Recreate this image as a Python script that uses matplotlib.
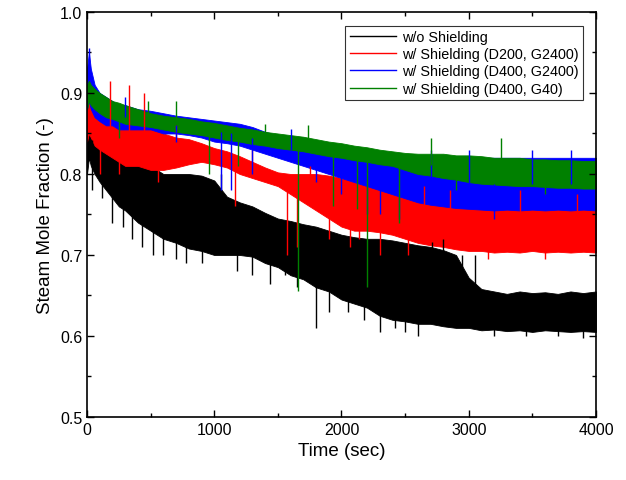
import numpy as np
import matplotlib
matplotlib.use("Agg")
import matplotlib.pyplot as plt
from matplotlib.ticker import MultipleLocator

plt.rcParams["font.family"] = ["Liberation Sans", "DejaVu Sans"]

# Shared time grid (sec) at which the noise band of every trace was read
time_s = [0, 15, 30, 60, 100, 150, 200, 250, 300, 400, 500, 600, 700, 800,
          900, 1000, 1100, 1200, 1300, 1400, 1500, 1600, 1700, 1800, 1900,
          2000, 2100, 2200, 2300, 2400, 2500, 2600, 2700, 2800, 2900, 3000,
          3100, 3200, 3300, 3400, 3500, 3600, 3700, 3800, 3900, 4000]

# w/o Shielding (lower / upper edge of the noisy band)
noshield_lo = [0.80, 0.82, 0.81, 0.80, 0.79, 0.78, 0.77, 0.76, 0.755, 0.74,
               0.73, 0.72, 0.715, 0.708, 0.705, 0.70, 0.70, 0.70, 0.698, 0.69,
               0.685, 0.675, 0.67, 0.66, 0.655, 0.645, 0.64, 0.635, 0.625,
               0.62, 0.618, 0.615, 0.615, 0.612, 0.61, 0.61, 0.607, 0.608,
               0.606, 0.607, 0.605, 0.607, 0.606, 0.605, 0.606, 0.605]
noshield_hi = [0.88, 0.89, 0.88, 0.87, 0.86, 0.85, 0.85, 0.84, 0.83, 0.82,
               0.81, 0.80, 0.80, 0.80, 0.798, 0.792, 0.772, 0.765, 0.76, 0.752,
               0.745, 0.742, 0.738, 0.735, 0.73, 0.725, 0.722, 0.72, 0.72,
               0.718, 0.715, 0.712, 0.71, 0.706, 0.70, 0.672, 0.658, 0.655,
               0.652, 0.655, 0.653, 0.654, 0.652, 0.655, 0.653, 0.655]

# w/ Shielding (D200, G2400)
d200_lo = [0.84, 0.85, 0.845, 0.835, 0.83, 0.825, 0.82, 0.815, 0.81, 0.81,
           0.805, 0.805, 0.808, 0.812, 0.815, 0.812, 0.808, 0.80, 0.795,
           0.79, 0.785, 0.775, 0.765, 0.755, 0.745, 0.735, 0.73, 0.73, 0.728,
           0.725, 0.72, 0.715, 0.712, 0.71, 0.707, 0.705, 0.705, 0.703,
           0.704, 0.703, 0.705, 0.703, 0.704, 0.703, 0.704, 0.703]
d200_hi = [0.89, 0.91, 0.90, 0.895, 0.89, 0.89, 0.885, 0.88, 0.875, 0.865,
           0.86, 0.85, 0.845, 0.843, 0.838, 0.832, 0.828, 0.822, 0.815,
           0.808, 0.802, 0.80, 0.80, 0.80, 0.798, 0.795, 0.79, 0.787, 0.785,
           0.782, 0.78, 0.777, 0.775, 0.772, 0.77, 0.768, 0.767, 0.766,
           0.766, 0.765, 0.766, 0.765, 0.766, 0.765, 0.766, 0.765]

# w/ Shielding (D400, G2400)
d400_lo = [0.88, 0.89, 0.88, 0.87, 0.865, 0.86, 0.86, 0.855, 0.855, 0.855,
           0.855, 0.85, 0.85, 0.848, 0.845, 0.84, 0.838, 0.835, 0.83, 0.825,
           0.82, 0.815, 0.81, 0.805, 0.80, 0.795, 0.79, 0.785, 0.78, 0.775,
           0.77, 0.765, 0.762, 0.76, 0.758, 0.757, 0.756, 0.755, 0.756,
           0.755, 0.756, 0.755, 0.756, 0.755, 0.756, 0.755]
d400_hi = [0.93, 0.95, 0.93, 0.91, 0.90, 0.895, 0.89, 0.885, 0.885, 0.88,
           0.878, 0.875, 0.872, 0.87, 0.868, 0.866, 0.864, 0.862, 0.858,
           0.852, 0.848, 0.845, 0.845, 0.84, 0.835, 0.835, 0.83, 0.83, 0.825,
           0.822, 0.82, 0.82, 0.82, 0.82, 0.82, 0.82, 0.82, 0.82, 0.82, 0.82,
           0.82, 0.82, 0.82, 0.82, 0.82, 0.82]

# w/ Shielding (D400, G40)
g40_lo = [0.88, 0.89, 0.885, 0.88, 0.875, 0.87, 0.868, 0.865, 0.862, 0.86,
          0.858, 0.855, 0.852, 0.85, 0.848, 0.845, 0.842, 0.84, 0.837, 0.835,
          0.832, 0.83, 0.828, 0.825, 0.822, 0.82, 0.817, 0.815, 0.812, 0.81,
          0.805, 0.80, 0.798, 0.795, 0.793, 0.79, 0.788, 0.787, 0.786,
          0.785, 0.785, 0.784, 0.783, 0.783, 0.782, 0.782]
g40_hi = [0.91, 0.915, 0.91, 0.905, 0.90, 0.895, 0.89, 0.888, 0.885, 0.88,
          0.875, 0.872, 0.87, 0.868, 0.865, 0.863, 0.86, 0.857, 0.855, 0.852,
          0.85, 0.848, 0.846, 0.843, 0.84, 0.838, 0.835, 0.833, 0.83, 0.828,
          0.826, 0.825, 0.825, 0.825, 0.823, 0.823, 0.822, 0.82, 0.82, 0.82,
          0.818, 0.818, 0.817, 0.817, 0.816, 0.816]

# isolated excursions beyond the band (time, value)
noshield_spike_t = [40, 120, 200, 280, 350, 430, 520, 600, 700, 780, 900,
                    1050, 1180, 1300, 1440, 1560, 1650, 1800, 1900, 2050,
                    2180, 2300, 2420, 2500, 2600, 2715, 2800, 2950, 3050,
                    3200, 3450, 3700, 3900]
noshield_spike_v = [0.78, 0.77, 0.74, 0.735, 0.72, 0.71, 0.70, 0.70, 0.695,
                    0.69, 0.69, 0.80, 0.68, 0.675, 0.664, 0.675, 0.66, 0.61,
                    0.63, 0.63, 0.62, 0.605, 0.61, 0.605, 0.60, 0.716, 0.72,
                    0.70, 0.70, 0.60, 0.60, 0.60, 0.598]
d200_spike_t = [100, 180, 250, 330, 450, 560, 700, 1160, 1300, 1575, 1650,
                1750, 1900, 2070, 2140, 2300, 2520, 2650, 2850, 3150, 3400,
                3600, 3850]
d200_spike_v = [0.80, 0.915, 0.80, 0.91, 0.90, 0.79, 0.86, 0.76, 0.83, 0.70,
                0.71, 0.81, 0.72, 0.71, 0.72, 0.70, 0.70, 0.785, 0.78, 0.695,
                0.78, 0.695, 0.775]
d400_spike_t = [15, 300, 700, 1050, 1135, 1300, 1600, 1800, 2000, 2200,
                2300, 2450, 2700, 3000, 3200, 3500, 3800]
d400_spike_v = [0.955, 0.895, 0.84, 0.78, 0.78, 0.80, 0.855, 0.79, 0.775,
                0.75, 0.75, 0.745, 0.83, 0.83, 0.745, 0.83, 0.83]
g40_spike_t = [250, 480, 700, 960, 1190, 1400, 1660, 1735, 1930, 2120, 2200,
               2455, 2700, 2900, 3250, 3600, 4000]
g40_spike_v = [0.845, 0.89, 0.89, 0.80, 0.81, 0.862, 0.655, 0.86, 0.76,
               0.757, 0.66, 0.74, 0.845, 0.78, 0.845, 0.775, 0.83]

series = [
    ("w/o Shielding", "black", noshield_lo, noshield_hi,
     noshield_spike_t, noshield_spike_v),
    ("w/ Shielding (D200, G2400)", "#ff0000", d200_lo, d200_hi,
     d200_spike_t, d200_spike_v),
    ("w/ Shielding (D400, G2400)", "#0000ff", d400_lo, d400_hi,
     d400_spike_t, d400_spike_v),
    ("w/ Shielding (D400, G40)", "#008000", g40_lo, g40_hi,
     g40_spike_t, g40_spike_v),
]

fig = plt.figure(figsize=(6.26, 4.81), dpi=100)
ax = fig.add_axes([0.139, 0.131, 0.813, 0.842])

t = np.asarray(time_s, dtype=float)
for label, color, lo, hi, sp_t, sp_v in series:
    lo = np.asarray(lo)
    hi = np.asarray(hi)
    ax.fill_between(t, lo, hi, color=color, lw=0.6)
    # spikes drawn from the middle of the band out to the read value
    sp_t = np.asarray(sp_t, dtype=float)
    sp_v = np.asarray(sp_v)
    mid = 0.5 * (np.interp(sp_t, t, lo) + np.interp(sp_t, t, hi))
    ax.vlines(sp_t, np.minimum(mid, sp_v), np.maximum(mid, sp_v),
              color=color, lw=1.0)
    ax.plot([], [], color=color, lw=1.0, label=label)

ax.set_xlim(0, 4000)
ax.set_ylim(0.5, 1.0)
ax.xaxis.set_major_locator(MultipleLocator(1000))
ax.xaxis.set_minor_locator(MultipleLocator(500))
ax.yaxis.set_major_locator(MultipleLocator(0.1))
ax.yaxis.set_minor_locator(MultipleLocator(0.05))
ax.tick_params(which="both", direction="in", top=True, right=True,
               labelsize=11.5, width=1.0)
ax.tick_params(which="major", length=5)
ax.tick_params(which="minor", length=3)
for sp in ax.spines.values():
    sp.set_linewidth(1.2)

ax.set_xlabel("Time (sec)", fontsize=13.5)
ax.set_ylabel("Steam Mole Fraction (-)", fontsize=13.5)

leg = ax.legend(loc="upper right", fontsize=10.4, frameon=True, fancybox=False,
                edgecolor="black", handlelength=3.2, borderpad=0.3,
                labelspacing=0.22, handletextpad=0.4,
                bbox_to_anchor=(0.988, 0.984))
leg.get_frame().set_linewidth(0.8)

fig.savefig("out.png", dpi=100)
